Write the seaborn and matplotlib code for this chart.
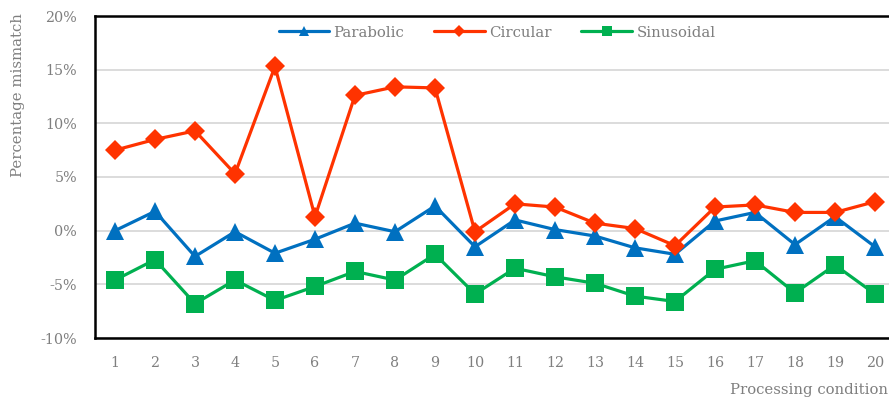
import matplotlib
matplotlib.use("Agg")
import matplotlib.pyplot as plt
from matplotlib.lines import Line2D
from matplotlib.ticker import FuncFormatter
import numpy as np
import pandas as pd
import seaborn as sns

# Processing conditions 1..20
conditions = list(range(1, 21))

# Percentage mismatch for each fixture profile
parabolic = [0.0, 1.8, -2.4, -0.1, -2.1, -0.8, 0.7, -0.1, 2.3, -1.5,
             1.0, 0.1, -0.5, -1.6, -2.2, 0.9, 1.7, -1.3, 1.3, -1.5]
circular = [7.5, 8.5, 9.3, 5.3, 15.3, 1.3, 12.6, 13.4, 13.3, -0.1,
            2.5, 2.2, 0.7, 0.2, -1.4, 2.2, 2.4, 1.7, 1.7, 2.7]
sinusoidal = [-4.6, -2.7, -6.8, -4.6, -6.5, -5.2, -3.8, -4.6, -2.2, -5.9,
              -3.5, -4.3, -4.9, -6.1, -6.6, -3.6, -2.8, -5.8, -3.2, -5.9]

series_names = ["Parabolic", "Circular", "Sinusoidal"]
y_ticks = [-10, -5, 0, 5, 10, 15, 20]

colors = {"Parabolic": "#0070C0", "Circular": "#FF3300", "Sinusoidal": "#00B050"}
markers = {"Parabolic": "^", "Circular": "D", "Sinusoidal": "s"}
msizes = {"Parabolic": 13, "Circular": 10.5, "Sinusoidal": 13}

df = pd.DataFrame({
    "condition": conditions * 3,
    "mismatch": parabolic + circular + sinusoidal,
    "series": sum([[n] * len(conditions) for n in series_names], []),
})

sns.set_theme(style="white")
plt.rcParams["font.family"] = ["DejaVu Serif"]
text_color = "#7F7F7F"

fig = plt.figure(figsize=(8.89, 4.0), dpi=100)
ax = fig.add_axes([95 / 889, 62 / 400, 800 / 889, 322 / 400])

for name in series_names:
    sub = df[df["series"] == name]
    sns.lineplot(data=sub, x="condition", y="mismatch", ax=ax,
                 color=colors[name], marker=markers[name],
                 markersize=msizes[name], markeredgewidth=0,
                 linewidth=2.3, legend=False)

ax.set_xlim(0.5, 20.5)
ax.set_ylim(-10, 20)
ax.set_xticks(conditions)
ax.set_yticks(y_ticks)
ax.yaxis.set_major_formatter(FuncFormatter(lambda v, _: f"{v:.0f}%"))
ax.grid(axis="y", color="#D9D9D9", linewidth=1.3)
ax.grid(axis="x", visible=False)
ax.set_axisbelow(True)
ax.tick_params(axis="both", length=0, labelsize=10.3, labelcolor=text_color)
ax.tick_params(axis="x", pad=13)
ax.tick_params(axis="y", pad=13)

for side in ["left", "top", "bottom"]:
    ax.spines[side].set_color("#000000")
    ax.spines[side].set_linewidth(1.8)
ax.spines["right"].set_visible(False)

ax.set_xlabel("")
ax.set_ylabel("")
fig.text(888 / 889, 1 - 390 / 400, "Processing condition", ha="right",
         va="center", fontsize=10.7, color=text_color)
fig.text(18 / 889, 1 - 13 / 400, "Percentage mismatch", rotation=90,
         ha="center", va="top", fontsize=10.7, color=text_color)

handles = [Line2D([], [], color=colors[n], marker=markers[n],
                  markersize=msizes[n] * 0.6, markeredgewidth=0, linewidth=2.3)
           for n in series_names]
ax.legend(handles, series_names, loc="upper center", ncol=3, frameon=False,
          bbox_to_anchor=((497 - 95) / 800, 1.0),
          handlelength=3.4, columnspacing=2.0, handletextpad=0.3,
          fontsize=10.7, labelcolor=text_color, borderaxespad=0.25)

fig.savefig("out.png", dpi=100, facecolor="white")
